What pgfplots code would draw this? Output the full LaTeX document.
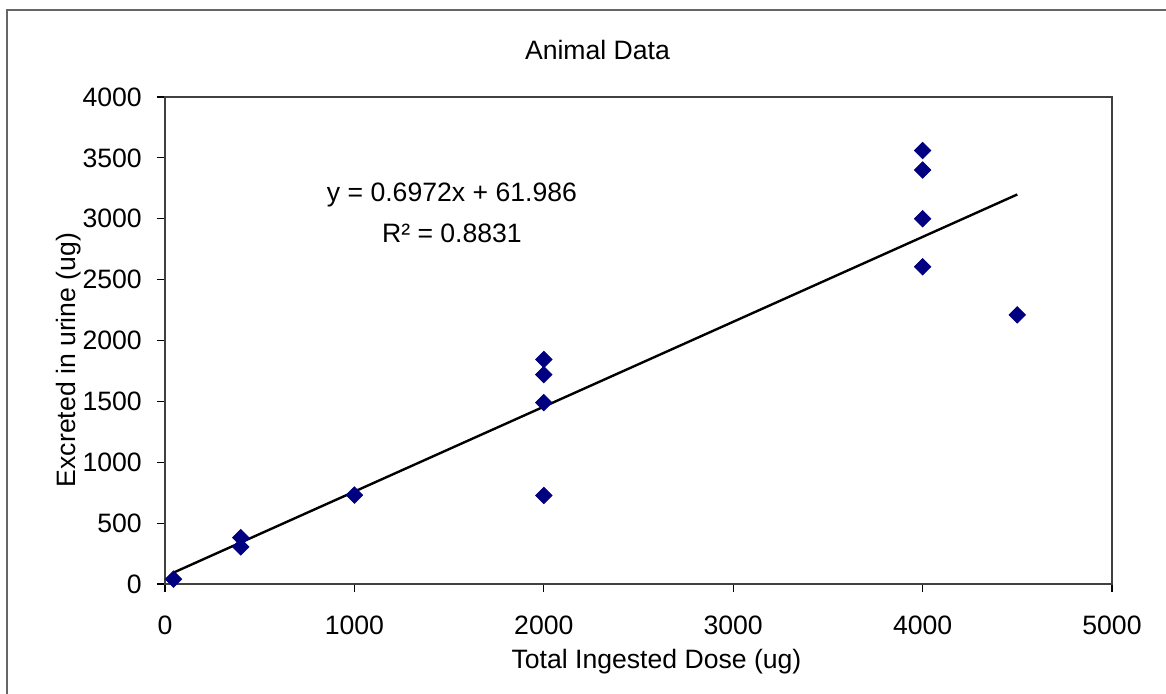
\documentclass[border=0pt]{standalone}
\usepackage{fontspec}
\setmainfont{Liberation Sans}
\usepackage{pgfplots}
\pgfplotsset{compat=1.18}

\definecolor{excelnavy}{RGB}{0,0,128}

\begin{document}
\fontsize{13.3pt}{16pt}\selectfont
\begin{tikzpicture}
\begin{axis}[
    at={(0pt,0pt)}, anchor=south west,
    scale only axis,
    width=473.5pt, height=243.5pt,
    xmin=0, xmax=5000, ymin=0, ymax=4000,
    xtick distance=1000, ytick distance=500,
    tick align=outside, xtick pos=bottom, ytick pos=left,
    major tick length=4pt,
    tick style={black, line width=0.6pt},
    axis line style={black!75, line width=0.8pt},
    /pgf/number format/assume math mode=true,
    /pgf/number format/1000 sep={},
    yticklabel style={xshift=-3pt},
    xticklabel style={yshift=-7.5pt},
    title={Animal Data},
    every axis title shift=0pt,
    title style={at={(rel axis cs:0.4567,1.076)}, anchor=base},
    xlabel={Total Ingested Dose (ug)},
    xlabel style={at={(rel axis cs:0.519,-0.1745)}, anchor=base},
    ylabel={Excreted in urine (ug)},
    ylabel style={at={(rel axis cs:-0.094,0.46)}, anchor=base, rotate=0},
    clip=false,
]
% fitted trend line, y = 0.6972x + 61.986
\addplot[black, line width=1.2pt] coordinates {(45,93.36) (4500,3199.4)};
\addplot[only marks, mark=square*, mark size=2.9pt,
    mark options={rotate=45, fill=excelnavy, draw=excelnavy}]
coordinates {
(45,40)
(400,380) (400,305)
(1000,730)
(2000,1844) (2000,1720) (2000,1490) (2000,727)
(4000,3560) (4000,3400) (4000,3000) (4000,2605)
(4500,2210)
};
\node[anchor=base] at (axis cs:1515,3144) {y = 0.6972x + 61.986};
\node[anchor=base] at (axis cs:1515,2807) {R² = 0.8831};
\end{axis}
\pgfresetboundingbox
\path[use as bounding box] (-82.5pt,-55pt) rectangle (500.5pt,292pt);
\draw[black!60, line width=1pt] (-79pt,-60pt) -- (-79pt,287pt) -- (510pt,287pt);
\end{tikzpicture}
\end{document}
